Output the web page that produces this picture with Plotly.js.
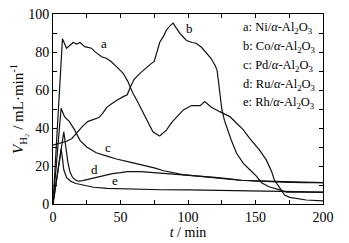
<!DOCTYPE html>
<html><head><meta charset="utf-8">
<script src="https://cdn.plot.ly/plotly-3.0.1.min.js"></script>
<style>html,body{margin:0;padding:0;background:#fff}#chart{width:349px;height:243px}</style>
</head><body><div id="chart"></div>
<script>
// a: Ni/α-Al2O3
const tA = [0,7,10,12.5,15,17.5,20,23.5,28.5,31,36,39.5,43,47,52,55.5,57,59,62,66,69.5,74,79,84,88,91.5,96.5,102.7,109,112.4,117.3,123.5,131,136,141,145.7,149,153,158,162,164,168,171.6,175.3,187.6,200];
const vA = [0,87,82,83.3,85,84.2,85,82.8,82,80.2,77.5,76.7,75,72.3,68.8,64.4,61.4,58.5,54.7,49,44.2,38,35.8,38.9,43,45.5,49.5,51.8,51.8,53.9,50.9,48.6,46,42.5,39,34.6,32,28.4,23.2,17,12.6,8.2,4.7,3.5,2.1,1.6];
// b: Co/α-Al2O3
const tB = [0,5,10,14,17,22,26,30,34,37,40,44,47,52,55,57,60,64,67,72,75,77,79,82,84,87,89,91,94,97,99,103,106,110,112,117,120,121.5,122.5,123,124,125,127,130,132,136,141,146,151,154.5,160,168,173,185,200];
const vB = [31,32,33,34.5,37,41,43.5,44.5,45.5,48,51,53,54.5,56.5,57.5,61,65.5,68.5,70.5,73.5,75,80,85,88.5,91.6,94,95.2,93,89.8,87.5,86,85,84.6,82.5,81,76.7,73,70.5,65,61.7,55,50,44,37.5,33.7,26.7,21.4,17.9,14.4,11.2,9.1,7.4,6.3,6.2,6.1];
// c: Pd/α-Al2O3
const tC = [0,6,8.5,12,16,20,25,32,40,47,57,65,75,82,96,111,125,138,150,165,180,200];
const vC = [0,50.4,46,43.5,39,33.5,30,27,25.2,23.7,22,20.8,19,17.5,15.5,14.4,13.5,12.5,12.2,11.8,11.4,11.2];
// d: Ru/α-Al2O3
const tD = [0,8,9.5,11,12.5,14.5,17,19,22,26,30,37,44,50,55,65,75,85,95,106,120,131,140,150,160,170,185,200];
const vD = [0,38,30,22,17,14,12.5,12,12.3,13,13.5,14.7,16,16.5,17,17,16.5,16,15.3,14.7,14,13.2,12.5,12.2,11.8,11.5,11.3,11.2];
// e: Rh/α-Al2O3
const tE = [0,6,7,8,10,13,17,22,30,40,52,64,80,100,120,140,160,180,200];
const vE = [0,29,24,18,14,12,10.8,10,8.8,8.2,7.9,7.9,7.5,7.4,7.1,7,6.8,6.5,6.3];

const curveLabels = ['a','b','c','d','e'];
const labelT = [38,101,40.8,30.9,45.7];
const labelV = [84.5,92.5,29.8,18.2,12.6];
const legendLines = ['a: Ni/<i>α</i>-Al<sub>2</sub>O<sub>3</sub>','b: Co/<i>α</i>-Al<sub>2</sub>O<sub>3</sub>','c: Pd/<i>α</i>-Al<sub>2</sub>O<sub>3</sub>','d: Ru/<i>α</i>-Al<sub>2</sub>O<sub>3</sub>','e: Rh/<i>α</i>-Al<sub>2</sub>O<sub>3</sub>'];
const legendY = [28,47,66,85,103];

const series = [[tA,vA],[tB,vB],[tC,vC],[tD,vD],[tE,vE]];
const traces = series.map(s => ({x:s[0], y:s[1], type:'scatter', mode:'lines', line:{color:'#111', width:1.2}, hoverinfo:'skip'}));

const font = {family:'"Liberation Serif", "Times New Roman", serif', color:'#000'};
const annotations = [];
curveLabels.forEach((l,i)=>annotations.push({x:labelT[i], y:labelV[i], xref:'x', yref:'y', text:l, showarrow:false, font:Object.assign({size:13},font)}));
const H = 243, mt = 14, mb = 39, ph = H - mt - mb;
legendLines.forEach((l,i)=>annotations.push({x:(241-53)/270, y:1 - (legendY[i]-mt)/ph, xref:'paper', yref:'paper', xanchor:'left', yanchor:'middle', text:l, showarrow:false, font:Object.assign({size:12.5},font)}));

const axisCommon = {showgrid:false, zeroline:false, showline:true, linecolor:'#000', linewidth:1, mirror:'ticks', ticks:'inside', ticklen:4, tickcolor:'#000', tickfont:Object.assign({size:14},font)};
const layout = {
  width:349, height:243, margin:{l:53, r:26, t:14, b:39},
  paper_bgcolor:'#fff', plot_bgcolor:'#fff', showlegend:false, font:font,
  xaxis:Object.assign({}, axisCommon, {range:[0,200], tickvals:[0,25,50,75,100,125,150,175,200], ticktext:['0','','50','','100','','150','','200'], title:{text:'<i>t</i> / min', font:Object.assign({size:14},font), standoff:2}}),
  yaxis:Object.assign({}, axisCommon, {range:[0,100], tickvals:[0,10,20,30,40,50,60,70,80,90,100], ticktext:['0','','20','','40','','60','','80','','100'], title:{text:'<i>V</i><sub>H₂</sub> / mL·min<sup>-1</sup>', font:Object.assign({size:15},font), standoff:0}}),
  annotations:annotations
};
Plotly.newPlot('chart', traces, layout, {staticPlot:true, displayModeBar:false});
</script></body></html>
